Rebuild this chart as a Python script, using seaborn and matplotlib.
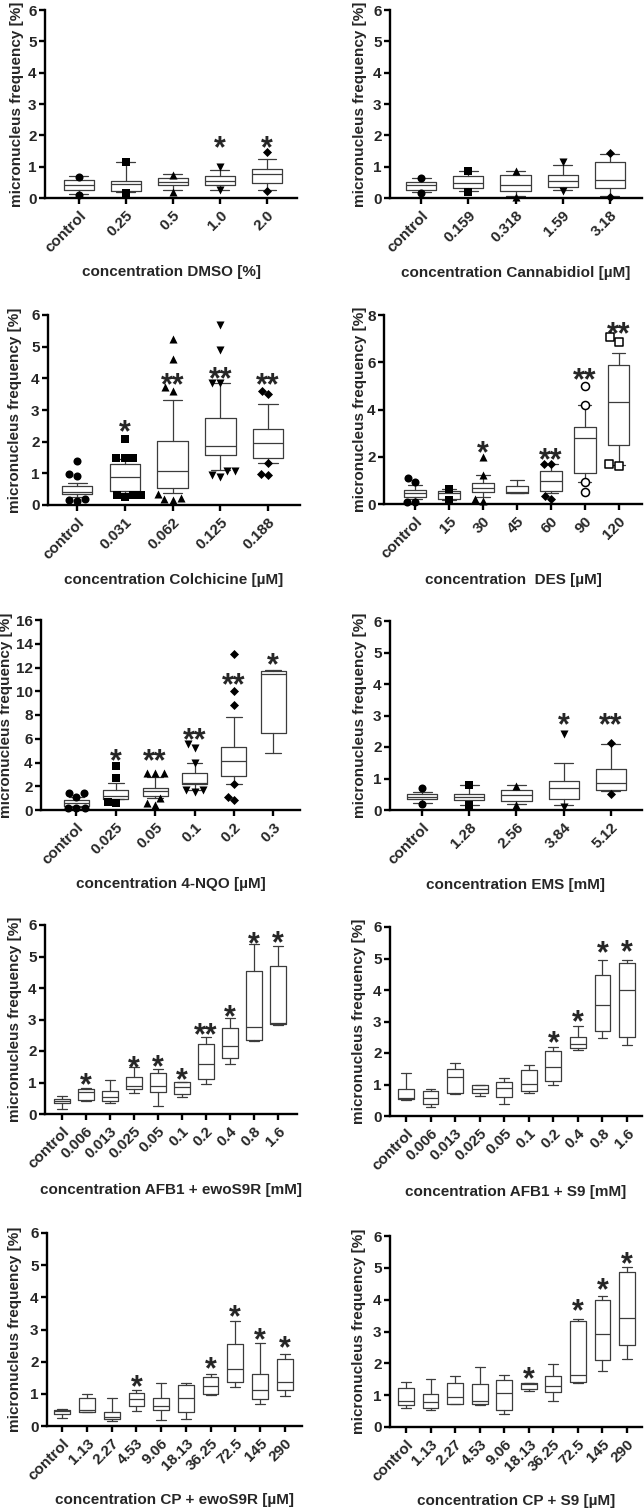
import matplotlib
matplotlib.use("Agg")
import matplotlib.pyplot as plt
import seaborn as sns

# ---- data: box = [whisker low, q1, median, q3, whisker high] ----
YLABEL = "micronucleus frequency [%]"

dmso_labels = ["control", "0.25", "0.5", "1.0", "2.0"]
dmso_box = [[0.13, 0.27, 0.42, 0.58, 0.70], [0.18, 0.21, 0.46, 0.55, 1.14],
            [0.27, 0.40, 0.50, 0.64, 0.76], [0.27, 0.42, 0.53, 0.71, 0.89],
            [0.24, 0.47, 0.77, 0.92, 1.26]]
dmso_out = [[0.68, 0.10], [1.14, 0.15], [0.74, 0.19], [0.99, 0.26], [1.48, 0.21]]
dmso_stars = ["", "", "", "*", "*"]
dmso_star_y = [0, 0, 0, 1.88, 1.88]

cbd_labels = ["control", "0.159", "0.318", "1.59", "3.18"]
cbd_box = [[0.18, 0.24, 0.42, 0.51, 0.64], [0.23, 0.32, 0.48, 0.69, 0.85],
           [0.05, 0.21, 0.40, 0.74, 0.85], [0.27, 0.34, 0.53, 0.74, 1.06],
           [0.05, 0.32, 0.58, 1.14, 1.41]]
cbd_out = [[0.64, 0.15], [0.85, 0.20], [0.87, 0.02], [1.15, 0.23], [1.43, 0.03]]
cbd_stars = ["", "", "", "", ""]
cbd_star_y = [0, 0, 0, 0, 0]

colch_labels = ["control", "0.031", "0.062", "0.125", "0.188"]
colch_box = [[0.24, 0.34, 0.42, 0.60, 0.68], [0.39, 0.45, 0.87, 1.29, 1.45],
             [0.37, 0.55, 1.08, 2.02, 3.32], [1.10, 1.58, 1.87, 2.74, 3.84],
             [1.32, 1.50, 1.97, 2.39, 3.19]]
colch_out = [[1.39, 0.98, 0.92, 0.13, 0.19, 0.16],
             [2.10, 1.48, 1.48, 1.48, 0.24, 0.31, 0.31, 0.31],
             [5.23, 4.60, 3.72, 3.61, 0.18, 0.22, 0.35, 0.17],
             [5.68, 4.89, 3.86, 3.86, 0.90, 1.07, 1.07, 0.95],
             [3.50, 3.59, 1.32, 0.95, 0.98]]
colch_stars = ["", "*", "**", "**", "**"]
colch_star_y = [0, 2.58, 4.07, 4.26, 4.07]

des_labels = ["control", "15", "30", "45", "60", "90", "120"]
des_box = [[0.20, 0.31, 0.48, 0.59, 0.80], [0.17, 0.21, 0.45, 0.56, 0.62],
           [0.31, 0.50, 0.69, 0.90, 1.23], [0.48, 0.48, 0.52, 0.78, 1.02],
           [0.45, 0.56, 0.97, 1.41, 1.68], [0.95, 1.33, 2.81, 3.27, 4.19],
           [1.65, 2.50, 4.33, 5.88, 6.40]]
des_out = [[0.95, 1.11, 0.10, 0.10], [0.65, 0.17], [2.00, 1.23, 0.13, 0.20], [],
           [1.68, 1.68, 0.21, 0.34], [4.19, 4.99, 0.95, 0.52], [6.87, 7.08, 1.62, 1.69]]
des_stars = ["", "", "*", "", "**", "**", "**"]
des_star_y = [0, 0, 2.5, 0, 2.2, 5.6, 7.57]

nqo_labels = ["control", "0.025", "0.05", "0.1", "0.2", "0.3"]
nqo_box = [[0.22, 0.34, 0.62, 0.84, 1.07], [0.90, 0.93, 1.18, 1.69, 2.30],
           [0.98, 1.21, 1.60, 1.88, 2.75], [1.69, 2.19, 2.30, 3.15, 3.93],
           [2.16, 2.89, 4.13, 5.34, 7.87], [4.83, 6.46, 11.43, 11.74, 11.80]]
nqo_out = [[1.40, 1.12, 1.40, 0.14, 0.14, 0.14], [3.70, 2.67, 0.56, 0.70],
           [3.10, 3.10, 3.10, 0.98, 0.40, 0.56], [5.60, 5.20, 4.00, 1.55, 1.69, 1.69],
           [13.10, 10.06, 8.85, 2.16, 0.84, 1.12], []]
nqo_stars = ["", "*", "**", "**", "**", "*"]
nqo_star_y = [0, 4.8, 4.8, 6.6, 11.2, 12.9]

ems_labels = ["control", "1.28", "2.56", "3.84", "5.12"]
ems_box = [[0.21, 0.34, 0.42, 0.51, 0.56], [0.16, 0.32, 0.41, 0.50, 0.79],
           [0.19, 0.30, 0.48, 0.65, 0.78], [0.16, 0.35, 0.69, 0.92, 1.48],
           [0.61, 0.65, 0.87, 1.30, 2.08]]
ems_out = [[0.69, 0.18], [0.79, 0.16], [0.76, 0.16], [2.41, 0.10], [2.14, 0.51]]
ems_stars = ["", "", "", "*", "**"]
ems_star_y = [0, 0, 0, 2.98, 2.98]

afb_labels = ["control", "0.006", "0.013", "0.025", "0.05", "0.1", "0.2", "0.4", "0.8", "1.6"]
afb_ewo_box = [[0.16, 0.34, 0.41, 0.48, 0.58], [0.42, 0.44, 0.71, 0.79, 0.81],
               [0.34, 0.42, 0.55, 0.74, 1.08], [0.68, 0.79, 0.89, 1.19, 1.48],
               [0.25, 0.71, 0.89, 1.31, 1.43], [0.55, 0.63, 0.85, 1.03, 1.03],
               [0.95, 1.11, 1.59, 2.22, 2.43], [1.59, 1.79, 2.16, 2.72, 3.04],
               [2.32, 2.35, 2.77, 4.55, 5.39], [2.83, 2.85, 2.90, 4.70, 5.33]]
afb_ewo_stars = ["", "*", "", "*", "*", "*", "**", "*", "*", "*"]
afb_ewo_star_y = [0, 1.19, 0, 1.74, 1.77, 1.34, 2.77, 3.35, 5.68, 5.71]

afb_s9_box = [[0.51, 0.53, 0.56, 0.85, 1.38], [0.28, 0.37, 0.58, 0.80, 0.85],
              [0.69, 0.72, 1.25, 1.50, 1.68], [0.64, 0.72, 0.85, 0.97, 1.00],
              [0.38, 0.59, 0.88, 1.07, 1.22], [0.72, 0.80, 1.02, 1.46, 1.62],
              [0.99, 1.11, 1.57, 2.05, 2.20], [2.10, 2.17, 2.29, 2.52, 2.86],
              [2.47, 2.71, 3.53, 4.49, 4.96], [2.26, 2.52, 3.99, 4.86, 4.96]]
afb_s9_stars = ["", "", "", "", "", "", "*", "*", "*", "*"]
afb_s9_star_y = [0, 0, 0, 0, 0, 0, 2.58, 3.25, 5.44, 5.49]

cp_labels = ["control", "1.13", "2.27", "4.53", "9.06", "18.13", "36.25", "72.5", "145", "290"]
cp_ewo_box = [[0.26, 0.36, 0.47, 0.51, 0.52], [0.44, 0.44, 0.49, 0.87, 1.00],
              [0.15, 0.23, 0.28, 0.44, 0.88], [0.46, 0.62, 0.85, 1.03, 1.11],
              [0.20, 0.49, 0.61, 0.88, 1.34], [0.23, 0.42, 0.87, 1.29, 1.34],
              [0.96, 1.01, 1.25, 1.53, 1.63], [1.22, 1.37, 1.77, 2.55, 3.27],
              [0.67, 0.83, 1.11, 1.63, 2.59], [0.93, 1.11, 1.37, 2.08, 2.24]]
cp_ewo_stars = ["", "", "", "*", "", "", "*", "*", "*", "*"]
cp_ewo_star_y = [0, 0, 0, 1.48, 0, 0, 2.05, 3.66, 2.95, 2.69]

cp_s9_box = [[0.61, 0.68, 0.81, 1.24, 1.41], [0.54, 0.61, 0.79, 1.05, 1.50],
             [0.71, 0.73, 0.94, 1.38, 1.60], [0.68, 0.71, 0.81, 1.36, 1.88],
             [0.42, 0.54, 1.07, 1.47, 1.64], [1.12, 1.20, 1.36, 1.39, 1.39],
             [0.81, 1.10, 1.29, 1.60, 1.99], [1.38, 1.41, 1.62, 3.33, 3.40],
             [1.75, 2.09, 2.93, 3.98, 4.12], [2.15, 2.59, 3.42, 4.87, 5.03]]
cp_s9_stars = ["", "", "", "", "", "*", "", "*", "*", "*"]
cp_s9_star_y = [0, 0, 0, 0, 0, 1.78, 0, 3.9, 4.58, 5.39]

SYMBOLS = ["o", "s", "^", "v", "D", "o", "s"]
OPEN = [False, False, False, False, False, True, True]
DES_SYMBOLS = ["o", "s", "^", "^", "D", "o", "s"]

# panel table: pixel rect (l, t, r, b), ylabel x px, xlabel y px, xlim, ylim top, ytick step, data
panels = [
    ((45, 10, 297, 198), 17, 272, (-0.72, 4.64), 6, 1, dmso_labels, dmso_box, dmso_out, SYMBOLS,
     dmso_stars, dmso_star_y, "concentration DMSO [%]"),
    ((390, 10, 642, 198), 360, 273, (-0.66, 4.68), 6, 1, cbd_labels, cbd_box, cbd_out, SYMBOLS,
     cbd_stars, cbd_star_y, "concentration Cannabidiol [µM]"),
    ((48, 315, 300, 505), 15, 580, (-0.61, 4.67), 6, 1, colch_labels, colch_box, colch_out, SYMBOLS,
     colch_stars, colch_star_y, "concentration Colchicine [µM]"),
    ((384, 315, 642, 504), 360, 580, (-0.92, 6.69), 8, 2, des_labels, des_box, des_out, DES_SYMBOLS,
     des_stars, des_star_y, "concentration  DES [µM]"),
    ((41, 620, 300, 810), 6, 884, (-0.9, 5.68), 16, 2, nqo_labels, nqo_box, nqo_out, SYMBOLS,
     nqo_stars, nqo_star_y, "concentration 4-NQO [µM]"),
    ((390, 621, 642, 810), 360, 885, (-0.68, 4.66), 6, 1, ems_labels, ems_box, ems_out, SYMBOLS,
     ems_stars, ems_star_y, "concentration EMS [mM]"),
    ((45, 925, 297, 1114), 15, 1190, (-0.71, 9.79), 6, 1, afb_labels, afb_ewo_box, None, SYMBOLS,
     afb_ewo_stars, afb_ewo_star_y, "concentration AFB1 + ewoS9R [mM]"),
    ((390, 927, 642, 1116), 359, 1192, (-0.65, 9.61), 6, 1, afb_labels, afb_s9_box, None, SYMBOLS,
     afb_s9_stars, afb_s9_star_y, "concentration AFB1 + S9 [mM]"),
    ((47, 1233, 302, 1426), 15, 1500, (-0.62, 9.7), 6, 1, cp_labels, cp_ewo_box, None, SYMBOLS,
     cp_ewo_stars, cp_ewo_star_y, "concentration CP + ewoS9R [µM]"),
    ((390, 1236, 642, 1427), 359, 1501, (-0.65, 9.61), 6, 1, cp_labels, cp_s9_box, None, SYMBOLS,
     cp_s9_stars, cp_s9_star_y, "concentration CP + S9 [µM]"),
]

sns.set_style("ticks")
plt.rcParams["font.family"] = ["Liberation Sans", "DejaVu Sans"]
plt.rcParams["font.weight"] = "bold"
plt.rcParams["axes.labelweight"] = "bold"
plt.rcParams["axes.linewidth"] = 1.7

W, H = 644, 1508
fig = plt.figure(figsize=(W / 100, H / 100), dpi=100)

BOXC = "#3c3c3c"
STAR_FS = 22
FS = 11

for (rect, ylab_x, xlab_y, xlim, ytop, ystep, labels, boxes, outs, markers,
     stars, star_y, xlabel) in panels:
    l, t, r, b = rect
    ax = fig.add_axes([l / W, 1 - b / H, (r - l) / W, (b - t) / H])

    # outlier points, spread like GraphPad with a swarm
    if outs is not None:
        for i, vals in enumerate(outs):
            if not vals:
                continue
            is_open = OPEN[i] and markers is DES_SYMBOLS
            m = markers[i]
            sns.swarmplot(x=[labels[i]] * len(vals), y=vals, order=labels, ax=ax,
                          marker=m, size=4.6 if m == "D" else 5.8,
                          color="white" if is_open else "black",
                          edgecolor="black", linewidth=1.1 if is_open else 0,
                          zorder=4, clip_on=False)

    stats = [dict(whislo=v[0], q1=v[1], med=v[2], q3=v[3], whishi=v[4]) for v in boxes]
    lp = dict(color=BOXC, linewidth=0.9)
    ax.bxp(stats, positions=range(len(labels)), widths=0.64, capwidths=0.4,
           showfliers=False, manage_ticks=False,
           boxprops=lp, whiskerprops=lp, capprops=lp, medianprops=lp)

    for i, s in enumerate(stars):
        if s:
            ax.annotate(s, xy=(i, star_y[i]), xytext=(0, -0.58 * STAR_FS),
                        textcoords="offset points", ha="center", va="baseline",
                        fontsize=STAR_FS, fontweight="bold", annotation_clip=False)

    ax.set_xlim(*xlim)
    ax.set_ylim(0, ytop)
    ax.set_yticks(range(0, ytop + 1, ystep))
    ax.set_xticks(range(len(labels)))
    ax.set_xticklabels(labels, rotation=45, ha="right", va="top", rotation_mode="anchor")
    ax.tick_params(axis="both", length=4.5, width=1.7, labelsize=FS, color="black")
    ax.tick_params(axis="x", pad=3)
    ax.tick_params(axis="y", pad=1.5)
    for lab in ax.get_xticklabels() + ax.get_yticklabels():
        lab.set_fontweight("bold")
    ax.set_xlabel(xlabel, fontsize=FS, fontweight="bold")
    ax.set_ylabel(YLABEL, fontsize=FS, fontweight="bold")
    ax.xaxis.set_label_coords(0.5, (b - xlab_y) / (b - t))
    ax.xaxis.label.set_verticalalignment("center")
    ax.yaxis.set_label_coords((ylab_x - l) / (r - l), 0.5)
    ax.yaxis.label.set_verticalalignment("center")
    ax.grid(False)
    sns.despine(ax=ax)
    for sp in ax.spines.values():
        sp.set_color("black")

fig.savefig("out.png", dpi=100)
